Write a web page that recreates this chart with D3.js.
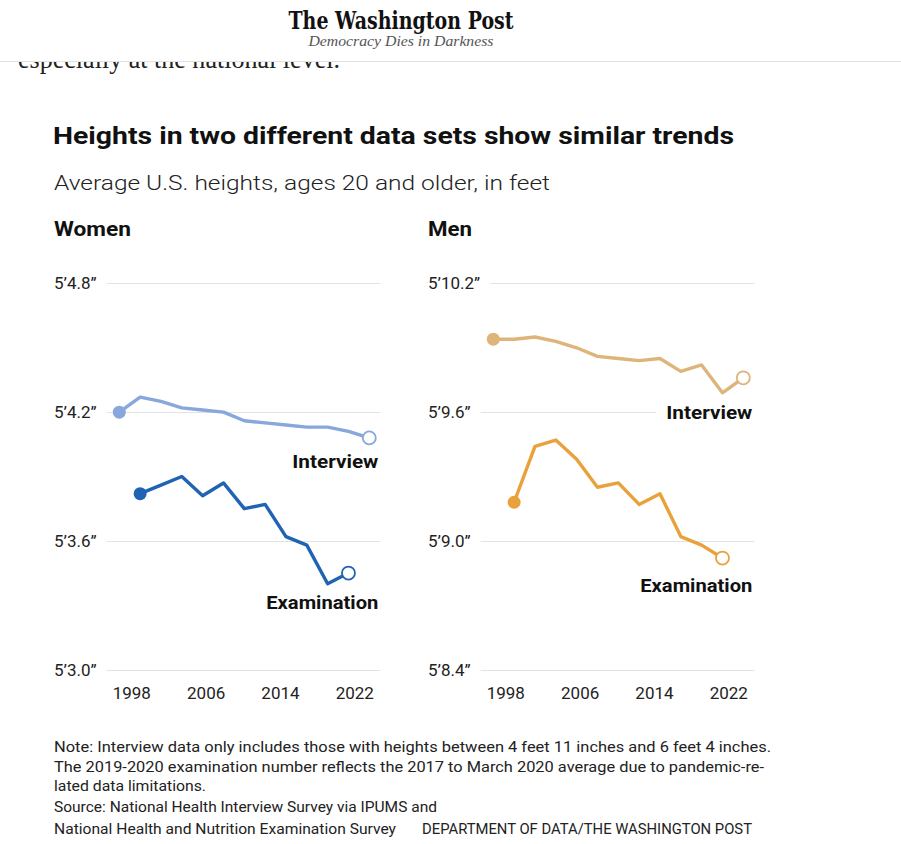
<!DOCTYPE html>
<html>
<head>
<meta charset="utf-8">
<script src="https://cdnjs.cloudflare.com/ajax/libs/d3/7.8.5/d3.min.js"></script>
<style>
  body { margin: 0; background: #fff; }
  svg text { font-family: Roboto, "Noto Sans", sans-serif; }
</style>
</head>
<body>
<div id="chart-area"></div>
<script>
// two-year survey periods, labelled by first year (1997-98 ... 2021-22)
var periods = [1997, 1999, 2001, 2003, 2005, 2007, 2009, 2011, 2013, 2015, 2017, 2019, 2021];
var examPeriods = [1999, 2001, 2003, 2005, 2007, 2009, 2011, 2013, 2015, 2017, 2019];
var tickYears = [1998, 2006, 2014, 2022];

// heights in inches
var womenInterview = [64.20, 64.27, 64.25, 64.22, 64.21, 64.20, 64.16, 64.15, 64.14, 64.13, 64.13, 64.11, 64.08];
var womenExam = [63.82, 63.86, 63.90, 63.81, 63.87, 63.75, 63.77, 63.62, 63.58, 63.40, 63.45];
var menInterview = [69.94, 69.94, 69.95, 69.93, 69.90, 69.86, 69.85, 69.84, 69.85, 69.79, 69.82, 69.69, 69.76];
var menExam = [69.18, 69.44, 69.47, 69.38, 69.25, 69.27, 69.17, 69.22, 69.02, 68.98, 68.92];

var womenTicks = [64.8, 64.2, 63.6, 63.0];
var menTicks = [70.2, 69.6, 69.0, 68.4];

var width = 901, height = 844;

var svg = d3.select("#chart-area").append("svg")
  .attr("width", width).attr("height", height);

// article text peeking under the sticky header
svg.append("text")
  .attr("x", 18).attr("y", 68)
  .style("font-family", "'Liberation Serif', serif")
  .style("font-size", "27px")
  .attr("fill", "#222")
  .attr("textLength", 322).attr("lengthAdjust", "spacingAndGlyphs")
  .text("especially at the national level.");

svg.append("rect").attr("x", 0).attr("y", 0).attr("width", width).attr("height", 61).attr("fill", "#fff");
svg.append("line").attr("x1", 0).attr("x2", width).attr("y1", 61.5).attr("y2", 61.5)
  .attr("stroke", "#e2e2e2");

svg.append("text")
  .attr("x", 401).attr("y", 29)
  .attr("text-anchor", "middle")
  .style("font-family", "'DejaVu Serif', serif")
  .style("font-weight", "bold")
  .style("font-size", "25px")
  .attr("fill", "#111")
  .attr("textLength", 225).attr("lengthAdjust", "spacingAndGlyphs")
  .text("The Washington Post");

svg.append("text")
  .attr("x", 401).attr("y", 46)
  .attr("text-anchor", "middle")
  .style("font-family", "'Liberation Serif', serif")
  .style("font-style", "italic")
  .style("font-size", "14px")
  .attr("fill", "#555")
  .attr("textLength", 185).attr("lengthAdjust", "spacingAndGlyphs")
  .text("Democracy Dies in Darkness");

// title block
svg.append("text")
  .attr("x", 53).attr("y", 144)
  .style("font-weight", "bold").style("font-size", "24px").attr("fill", "#111")
  .attr("textLength", 681).attr("lengthAdjust", "spacingAndGlyphs")
  .text("Heights in two different data sets show similar trends");

svg.append("text")
  .attr("x", 54).attr("y", 190)
  .style("font-weight", "300").style("font-size", "21px").attr("fill", "#222")
  .attr("textLength", 496).attr("lengthAdjust", "spacingAndGlyphs")
  .text("Average U.S. heights, ages 20 and older, in feet");

function fmt(v) {
  var ft = Math.floor(v / 12);
  var inch = v - ft * 12;
  return ft + "\u2019" + inch.toFixed(1) + "\u201D";
}

function panel(opt) {
  var g = svg.append("g");

  var x = d3.scaleLinear().domain([periods[0], periods[periods.length - 1]])
    .range([opt.left, opt.left + 250]);
  // year labels sit slightly inside the period span
  var xt = d3.scaleLinear().domain([tickYears[0], tickYears[tickYears.length - 1]])
    .range([opt.left + 12, opt.left + 235]);
  var y = d3.scaleLinear().domain(opt.domain).range([669.6, 283.4]);

  g.append("text")
    .attr("x", opt.labelX).attr("y", 236)
    .style("font-weight", "bold").style("font-size", "21px").attr("fill", "#111")
    .attr("textLength", opt.titleW).attr("lengthAdjust", "spacingAndGlyphs")
    .text(opt.title);

  // gridlines + y labels
  opt.ticks.forEach(function(t) {
    var lab = g.append("text")
      .attr("x", opt.labelX).attr("y", y(t)).attr("dy", "0.35em")
      .style("font-size", "17px").attr("fill", "#222")
      .text(fmt(t));
    var w = lab.node().getComputedTextLength();
    g.insert("line", "text")
      .attr("x1", opt.labelX + w + 10).attr("x2", opt.left + 261)
      .attr("y1", Math.round(y(t)) + 0.5).attr("y2", Math.round(y(t)) + 0.5)
      .attr("stroke", "#e3e3e3");
  });

  var xAxis = d3.axisBottom(xt).tickValues(tickYears).tickFormat(d3.format("d")).tickSize(0).tickPadding(0);
  var ax = g.append("g").attr("transform", "translate(0,687)").call(xAxis);
  ax.select(".domain").remove();
  ax.selectAll("text").style("font-size", "17px").attr("fill", "#222")
    .style("font-family", "Roboto, sans-serif");

  var line = d3.line().x(function(d) { return x(d[0]); }).y(function(d) { return y(d[1]); });

  opt.series.forEach(function(s) {
    var pts = s.years.map(function(yr, i) { return [yr, s.values[i]]; });
    var first = pts[0], last = pts[pts.length - 1];

    // label with white backing
    var lbl = g.append("text")
      .attr("x", opt.left + 259).attr("y", y(last[1]) + s.dy)
      .attr("text-anchor", "end")
      .style("font-weight", "bold").style("font-size", "18px").attr("fill", "#111")
      .attr("textLength", s.w).attr("lengthAdjust", "spacingAndGlyphs")
      .text(s.name);
    var bb = lbl.node().getBBox();
    g.insert("rect", function() { return lbl.node(); })
      .attr("x", bb.x - 10).attr("y", bb.y - 2).attr("width", bb.width + 12).attr("height", bb.height + 4)
      .attr("fill", "#fff");

    g.append("path").datum(pts)
      .attr("d", line)
      .attr("fill", "none").attr("stroke", s.color)
      .attr("stroke-width", 3.4).attr("stroke-linejoin", "round");

    g.append("circle").attr("cx", x(first[0])).attr("cy", y(first[1])).attr("r", 6.5)
      .attr("fill", s.color);
    g.append("circle").attr("cx", x(last[0])).attr("cy", y(last[1])).attr("r", 6.5)
      .attr("fill", "#fff").attr("stroke", s.color).attr("stroke-width", 1.8);
  });
}

panel({
  title: "Women", titleW: 77, labelX: 54, left: 119.3,
  domain: [63.0, 64.8], ticks: womenTicks,
  series: [
    { name: "Interview", years: periods, values: womenInterview, color: "#88a7dc", dy: 30, w: 86 },
    { name: "Examination", years: examPeriods, values: womenExam, color: "#2063b4", dy: 36, w: 112 }
  ]
});

panel({
  title: "Men", titleW: 44, labelX: 428, left: 493.3,
  domain: [68.4, 70.2], ticks: menTicks,
  series: [
    { name: "Interview", years: periods, values: menInterview, color: "#ddb57b", dy: 41, w: 86 },
    { name: "Examination", years: examPeriods, values: menExam, color: "#e9a23b", dy: 34, w: 112 }
  ]
});

// notes
var notes = [
  ["Note: Interview data only includes those with heights between 4 feet 11 inches and 6 feet 4 inches.", 752, 717],
  ["The 2019-2020 examination number reflects the 2017 to March 2020 average due to pandemic-re-", 772, 710],
  ["lated data limitations.", 791, 152],
  ["Source: National Health Interview Survey via IPUMS and", 812, 383],
  ["National Health and Nutrition Examination Survey", 834, 342]
];
notes.forEach(function(n) {
  svg.append("text").attr("x", 54).attr("y", n[1])
    .style("font-size", "15px").attr("fill", "#222")
    .attr("textLength", n[2]).attr("lengthAdjust", "spacingAndGlyphs")
    .text(n[0]);
});
svg.append("text").attr("x", 752).attr("y", 834).attr("text-anchor", "end")
  .style("font-size", "15px").attr("fill", "#222")
  .attr("textLength", 330).attr("lengthAdjust", "spacingAndGlyphs")
  .text("DEPARTMENT OF DATA/THE WASHINGTON POST");
</script>
</body>
</html>
